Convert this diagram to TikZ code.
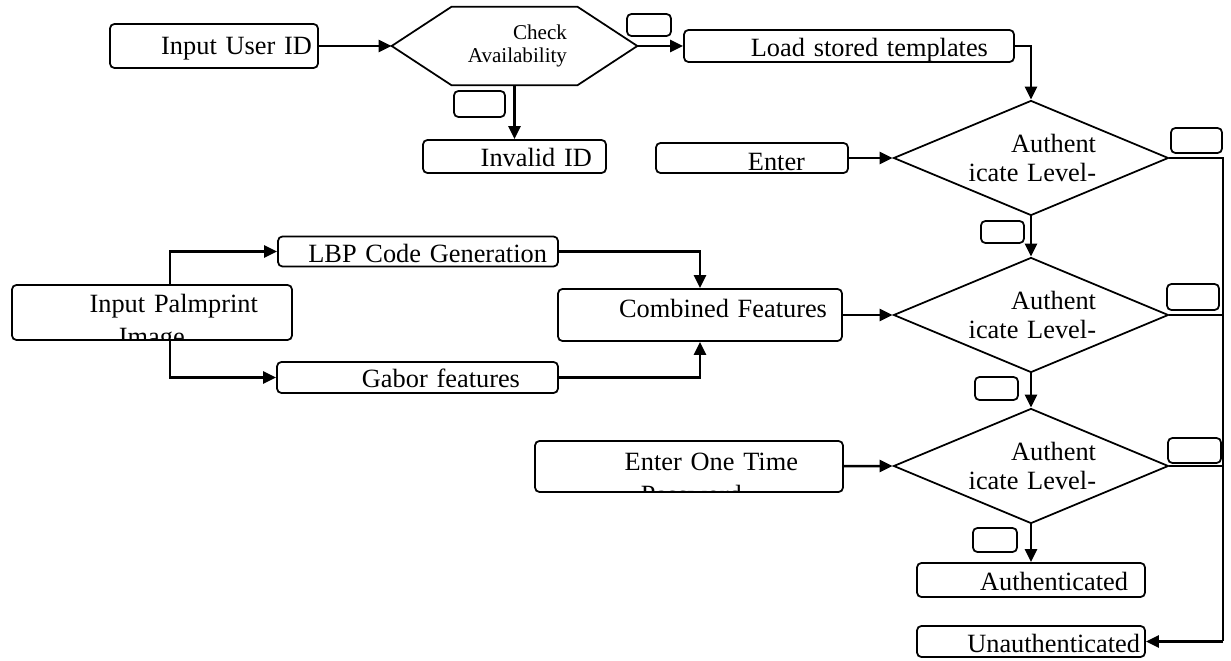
\documentclass[tikz,border=0pt]{standalone}
\usepackage{fontspec}
\setmainfont{Liberation Serif}
\usepackage{tikz}
\usetikzlibrary{shapes.geometric}
\usetikzlibrary{arrows.meta}
\tikzset{box/.style={draw, rounded corners=2.5pt, line width=1pt, inner sep=0pt, align=right, text height=0.44cm, text depth=0pt}}
\tikzset{tag/.style={draw, rounded corners=2.5pt, line width=1pt, inner sep=0pt}}
\tikzset{level/.style={diamond, draw, line width=1pt, inner sep=0pt, aspect=2.39, minimum width=5.5cm, minimum height=2.3cm, text width=2.6cm, align=right}}
\tikzset{flow/.style={-{Triangle[length=7.4pt, width=6.8pt]}, line width=1.4pt}}
\tikzset{rail/.style={line width=0.8pt}}
\tikzset{cutline/.style={anchor=base west, inner sep=0pt, draw=none, minimum width=0pt, minimum height=0pt, text width=3cm, align=left}}

\begin{document}
\begin{tikzpicture}[x=0.02cm, y=-0.02cm, font=\fontsize{15pt}{17pt}\selectfont]
    \useasboundingbox (0,0) rectangle (1231,661);

    \node [box, minimum width=4.16cm, minimum height=0.88cm, text width=3.92cm, text height=0.36cm](userid) at (214,46){Input User ID};
    \node [minimum width=4.9cm, minimum height=1.56cm, inner sep=0pt, text width=2.1cm, align=right, font=\fontsize{12pt}{13.2pt}\selectfont](check) at (514.5,46){Check\\Availability};
    \draw[line width=1pt] (check.west) -- ([xshift=1.2cm]check.north west) -- ([xshift=-1.2cm]check.north east) -- (check.east) -- ([xshift=-1.2cm]check.south east) -- ([xshift=1.2cm]check.south west) -- cycle;
    \node [box, minimum width=3.66cm, minimum height=0.66cm, text width=3.1cm, text height=0.4cm](invalid) at (514.5,156.5){Invalid ID};
    \node [box, minimum width=6.6cm, minimum height=0.64cm, text width=5.56cm](load) at (849,46){Load stored templates};
    \node [box, minimum width=3.84cm, minimum height=0.6cm, text width=2.12cm, text height=0.52cm](enter) at (752,158){Enter};

    \node [level](level1) at (1031,158){Authent\\icate Level-};
    \node [level](level2) at (1031,315){Authent\\icate Level-};
    \node [level](level3) at (1031,466){Authent\\icate Level-};

    % second lines cut off by the box edge
    \node [box, minimum width=5.6cm, minimum height=1.1cm, text width=4.24cm, text height=0.36cm, text depth=0.34cm,
        path picture={\node[cutline] at ([xshift=-0.68cm, yshift=-0.67cm]path picture bounding box.center){Image};}](palm) at (152,312.5){Input Palmprint};
    \node [box, minimum width=5.6cm, minimum height=0.6cm, text width=5.16cm](lbp) at (418,251.5){LBP Code Generation};
    \node [box, minimum width=5.62cm, minimum height=0.62cm, text width=4.1cm, text height=0.42cm](gabor) at (417.5,377.5){Gabor features};
    \node [box, minimum width=5.68cm, minimum height=1.04cm, text width=5.08cm, text height=0.4cm, text depth=0.28cm](combined) at (700,315){Combined Features};
    \node [box, minimum width=6.16cm, minimum height=1.02cm, text width=4.36cm, text height=0.4cm, text depth=0.22cm,
        path picture={\node[cutline] at ([xshift=-0.98cm, yshift=-0.75cm]path picture bounding box.center){Password};}](otp) at (689,466.5){Enter One Time};
    \node [box, minimum width=4.56cm, minimum height=0.68cm, text width=3.88cm](authd) at (1031,580){Authenticated};
    \node [box, minimum width=4.56cm, minimum height=0.62cm, text width=4.36cm, text height=0.46cm](unauth) at (1031,641.5){Unauthenticated};

    \node [tag, minimum width=0.88cm, minimum height=0.44cm](tagA) at (649,25){};
    \node [tag, minimum width=1.02cm, minimum height=0.52cm](tagB) at (479.5,104){};
    \node [tag, minimum width=1.02cm, minimum height=0.5cm](tagC) at (1196.5,140.5){};
    \node [tag, minimum width=0.86cm, minimum height=0.44cm](tagD) at (1002.5,232){};
    \node [tag, minimum width=1.04cm, minimum height=0.52cm](tagE) at (1193,297){};
    \node [tag, minimum width=0.86cm, minimum height=0.46cm](tagF) at (996.5,388.5){};
    \node [tag, minimum width=1.06cm, minimum height=0.5cm](tagG) at (1194.5,450.5){};
    \node [tag, minimum width=0.88cm, minimum height=0.48cm](tagH) at (995,540){};

    \coordinate (rail) at (1223,158);

    \draw[flow] (userid) -- (check.west);
    \draw[flow] (check.east) -- (load);
    \draw[flow] (check.south) -- (invalid);
    \draw[flow] (load.east) -| (level1.north);
    \draw[flow] (enter) -- (level1.west);
    \draw[flow] (level1.south) -- (level2.north);
    \draw[flow] (level2.south) -- (level3.north);
    \draw[flow] (level3.south) -- (authd);
    \draw[flow] ([xshift=0.36cm]palm.north) |- (lbp.west);
    \draw[flow] ([xshift=0.36cm]palm.south) |- (gabor.west);
    \draw[flow] (lbp.east) -| (combined.north);
    \draw[flow] (gabor.east) -| (combined.south);
    \draw[flow] (combined) -- (level2.west);
    \draw[flow] (otp) -- (level3.west);
    \draw[rail] (level1.east) -- (rail) -- (rail |- unauth.east);
    \draw[rail] (level2.east) -- (level2.east -| rail);
    \draw[rail] (level3.east) -- (level3.east -| rail);
    \draw[flow] (rail |- unauth.east) -- (unauth.east);
\end{tikzpicture}
\end{document}
